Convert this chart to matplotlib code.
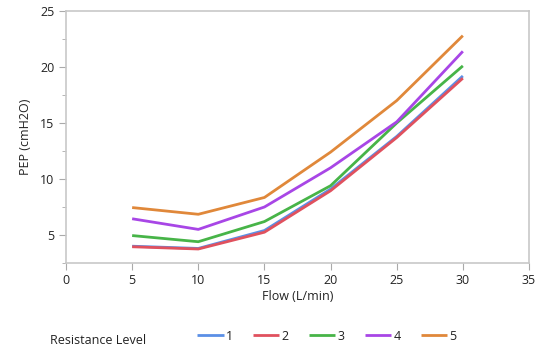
import matplotlib.pyplot as plt
from matplotlib.ticker import MultipleLocator

flow = [5, 10, 15, 20, 25, 30]
levels = ["1", "2", "3", "4", "5"]
pep_1 = [4.0, 3.8, 5.4, 9.1, 13.8, 19.2]
pep_2 = [3.95, 3.75, 5.25, 8.95, 13.7, 19.0]
pep_3 = [4.95, 4.4, 6.2, 9.4, 15.0, 20.1]
pep_4 = [6.45, 5.5, 7.5, 11.0, 15.1, 21.4]
pep_5 = [7.45, 6.85, 8.35, 12.4, 17.0, 22.8]
colors = ["#5b8fe6", "#e0515e", "#47b448", "#a846e6", "#e0883a"]

plt.rcParams["font.family"] = ["Open Sans", "DejaVu Sans"]

fig = plt.figure(figsize=(5.38, 3.51), dpi=100)
ax = fig.add_axes([66 / 538, 1 - 263 / 351, (529 - 66) / 538, (263 - 11) / 351])

for vals, c, lab in zip([pep_1, pep_2, pep_3, pep_4, pep_5], colors, levels):
    ax.plot(flow, vals, color=c, lw=2, label=lab, solid_capstyle="butt")

ax.set_xlim(0, 35)
ax.set_ylim(2.5, 25)
ax.xaxis.set_major_locator(MultipleLocator(5))
ax.yaxis.set_major_locator(MultipleLocator(5))
ax.yaxis.set_minor_locator(MultipleLocator(2.5))
for s in ax.spines.values():
    s.set_color("#c8c8c8")
    s.set_linewidth(1.2)
ax.tick_params(which="both", colors="#aaaaaa", labelcolor="#222222", labelsize=9)
ax.tick_params(which="major", length=5)
ax.tick_params(which="minor", length=3)
ax.tick_params(axis="x", pad=3)

ax.set_xlabel("Flow (L/min)", fontsize=9, color="#222222", labelpad=2)
ax.set_ylabel("PEP (cmH2O)", fontsize=9, color="#222222", labelpad=6)

fig.text(50 / 538, 1 - 340 / 351, "Resistance Level", fontsize=9, color="#222222", va="center")
fig.legend(loc="center left", bbox_to_anchor=(186 / 538, 1 - 336 / 351), ncol=5, frameon=False,
           fontsize=9, handlelength=2.1, handletextpad=0.2, columnspacing=1.6,
           labelcolor="#222222")

fig.savefig("out.png", dpi=100)
